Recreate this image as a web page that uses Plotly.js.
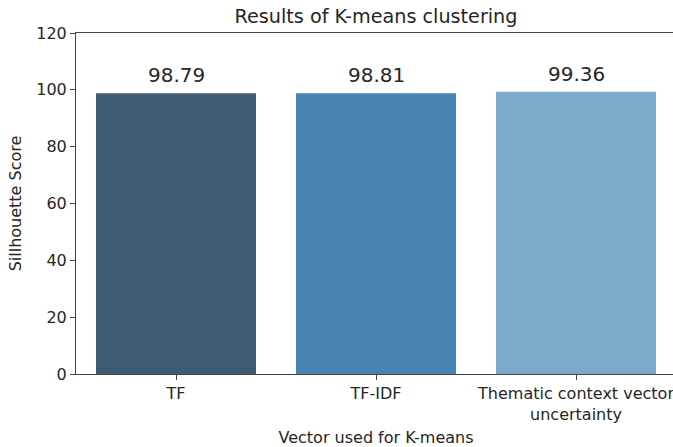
<!DOCTYPE html>
<html>
<head>
<meta charset="utf-8">
<script src="https://cdn.plot.ly/plotly-3.0.1.min.js"></script>
<style>
html,body{margin:0;padding:0;overflow:hidden;background:#fff;}
#chart{width:680px;height:447px;}
</style>
</head>
<body>
<div id="chart"></div>
<script>
const categories = ["TF", "TF-IDF", "Thematic context vector<br>uncertainty"];
const scores = [98.79, 98.81, 99.36];
const barColors = ["#3e5b72", "#4884b1", "#7ba9ca"];
const yTicks = [0, 20, 40, 60, 80, 100, 120];

const FONT = "DejaVu Sans, sans-serif";
const TXT = "#262626";

const trace = {
  type: "bar",
  x: categories,
  y: scores,
  marker: {color: barColors, line: {width: 0}},
  hoverinfo: "skip"
};

const annotations = categories.map((c, i) => ({
  x: c, y: scores[i], xref: "x", yref: "y",
  text: scores[i].toFixed(2),
  showarrow: false,
  yanchor: "bottom",
  yshift: 4,
  font: {family: FONT, size: 20, color: TXT}
}));

const layout = {
  width: 680, height: 447,
  margin: {l: 76, r: 4, t: 33, b: 73, pad: 0},
  paper_bgcolor: "#fff", plot_bgcolor: "#fff",
  bargap: 0.2,
  showlegend: false,
  font: {family: FONT, color: TXT, size: 16},
  title: {
    text: "Results of K-means clustering",
    font: {family: FONT, size: 19.2, color: TXT},
    x: 0.5, xref: "paper", xanchor: "center",
    y: 1 - 16/447, yref: "container", yanchor: "middle"
  },
  xaxis: {
    type: "category",
    range: [-0.5, 2.5],
    showline: true, linecolor: "#444", linewidth: 1, mirror: true,
    ticks: "outside", ticklen: 5, tickcolor: "#444", tickwidth: 1,
    tickfont: {family: FONT, size: 16, color: TXT},
    showgrid: false, zeroline: false,
    title: {text: "Vector used for K-means", font: {family: FONT, size: 16, color: TXT}, standoff: 8}
  },
  yaxis: {
    range: [0, 120],
    tickvals: yTicks,
    ticktext: yTicks.map(String),
    showline: true, linecolor: "#444", linewidth: 1,
    ticks: "outside", ticklen: 5, tickcolor: "#444", tickwidth: 1,
    tickfont: {family: FONT, size: 16, color: TXT},
    showgrid: false, zeroline: false,
    title: {text: "Sillhouette Score", font: {family: FONT, size: 16, color: TXT}, standoff: 10}
  },
  annotations: annotations
};

Plotly.newPlot("chart", [trace], layout, {displayModeBar: false, staticPlot: true});
</script>
</body>
</html>
